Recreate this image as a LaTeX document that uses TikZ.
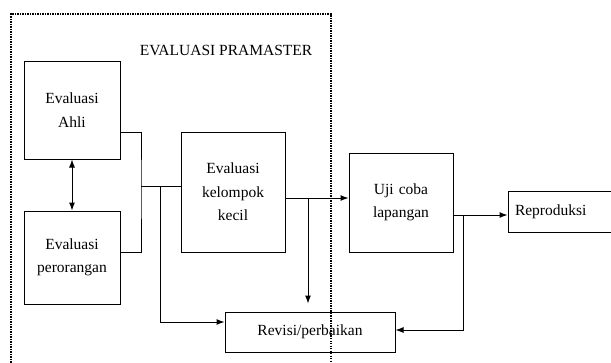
\documentclass[tikz,border=0pt]{standalone}
\usepackage{fontspec}
\setmainfont{Liberation Serif}
\usetikzlibrary{arrows.meta}
\begin{document}
\begin{tikzpicture}[x=1pt,y=-1pt]
        \tikzstyle{block} = [rectangle, text=black, text centered, draw=black, line width=1pt, font=\fontsize{15.5}{23.5}\selectfont, inner sep=2pt]
        \tikzstyle{line} = [-{Latex[length=8pt,width=6pt]},draw=black,line width=1pt]
        \tikzstyle{noarrow} = [draw=black,line width=1pt]
        \useasboundingbox (0,0) rectangle (611,362);
        \draw[line width=1.3pt, dash pattern=on 1.3pt off 1.2pt] (11,370) -- (11,14) -- (331,14) -- (331,370);
        \node[font=\fontsize{15.5}{18}\selectfont] (title) at (226,50) {EVALUASI PRAMASTER};
        \node[block, minimum width=96, minimum height=98, text width=80, align=center] (ahli) at (72,110) {Evaluasi\\Ahli};
        \node[block, minimum width=96, minimum height=93, text width=80, align=center] (perorangan) at (72,257.5) {Evaluasi\\perorangan};
        \node[block, minimum width=104, minimum height=120, text width=90, align=center] (kelompok) at (233,192) {Evaluasi\\kelompok\\kecil};
        \node[block, minimum width=170, minimum height=40] (revisi) at (310,332) {Revisi/perbaikan};
        \node[block, minimum width=104, minimum height=99, text width=90, align=center] (uji) at (401,202.5) {Uji coba\\lapangan};
        \node[block, minimum width=106, minimum height=41, text width=92, align=left, inner sep=7pt] (reproduksi) at (561,211.5) {Reproduksi};
        \coordinate (jn) at (141,186);
        \coordinate (jb) at (160,186);
        \coordinate (jk) at (308,198);
        \coordinate (ju) at (463,215);
        \draw[line,{Latex[length=8pt,width=6pt]}-{Latex[length=8pt,width=6pt]}] (ahli) to (perorangan);
        \draw[noarrow] ([yshift=-22pt]ahli.east) -| (jn) |- ([yshift=5.5pt]perorangan.east);
        \draw[noarrow] (jn) to (jn -| kelompok.west);
        \draw[line] (jb) |- ([yshift=10pt]revisi.west);
        \draw[line] (jk -| kelompok.east) to (jk -| uji.west);
        \draw[line, shorten >=8pt] (jk) to (jk |- revisi.north);
        \draw[line] (ju -| uji.east) to (ju -| reproduksi.west);
        \draw[line] (ju) |- ([yshift=2pt]revisi.east);
    \end{tikzpicture}
\end{document}
